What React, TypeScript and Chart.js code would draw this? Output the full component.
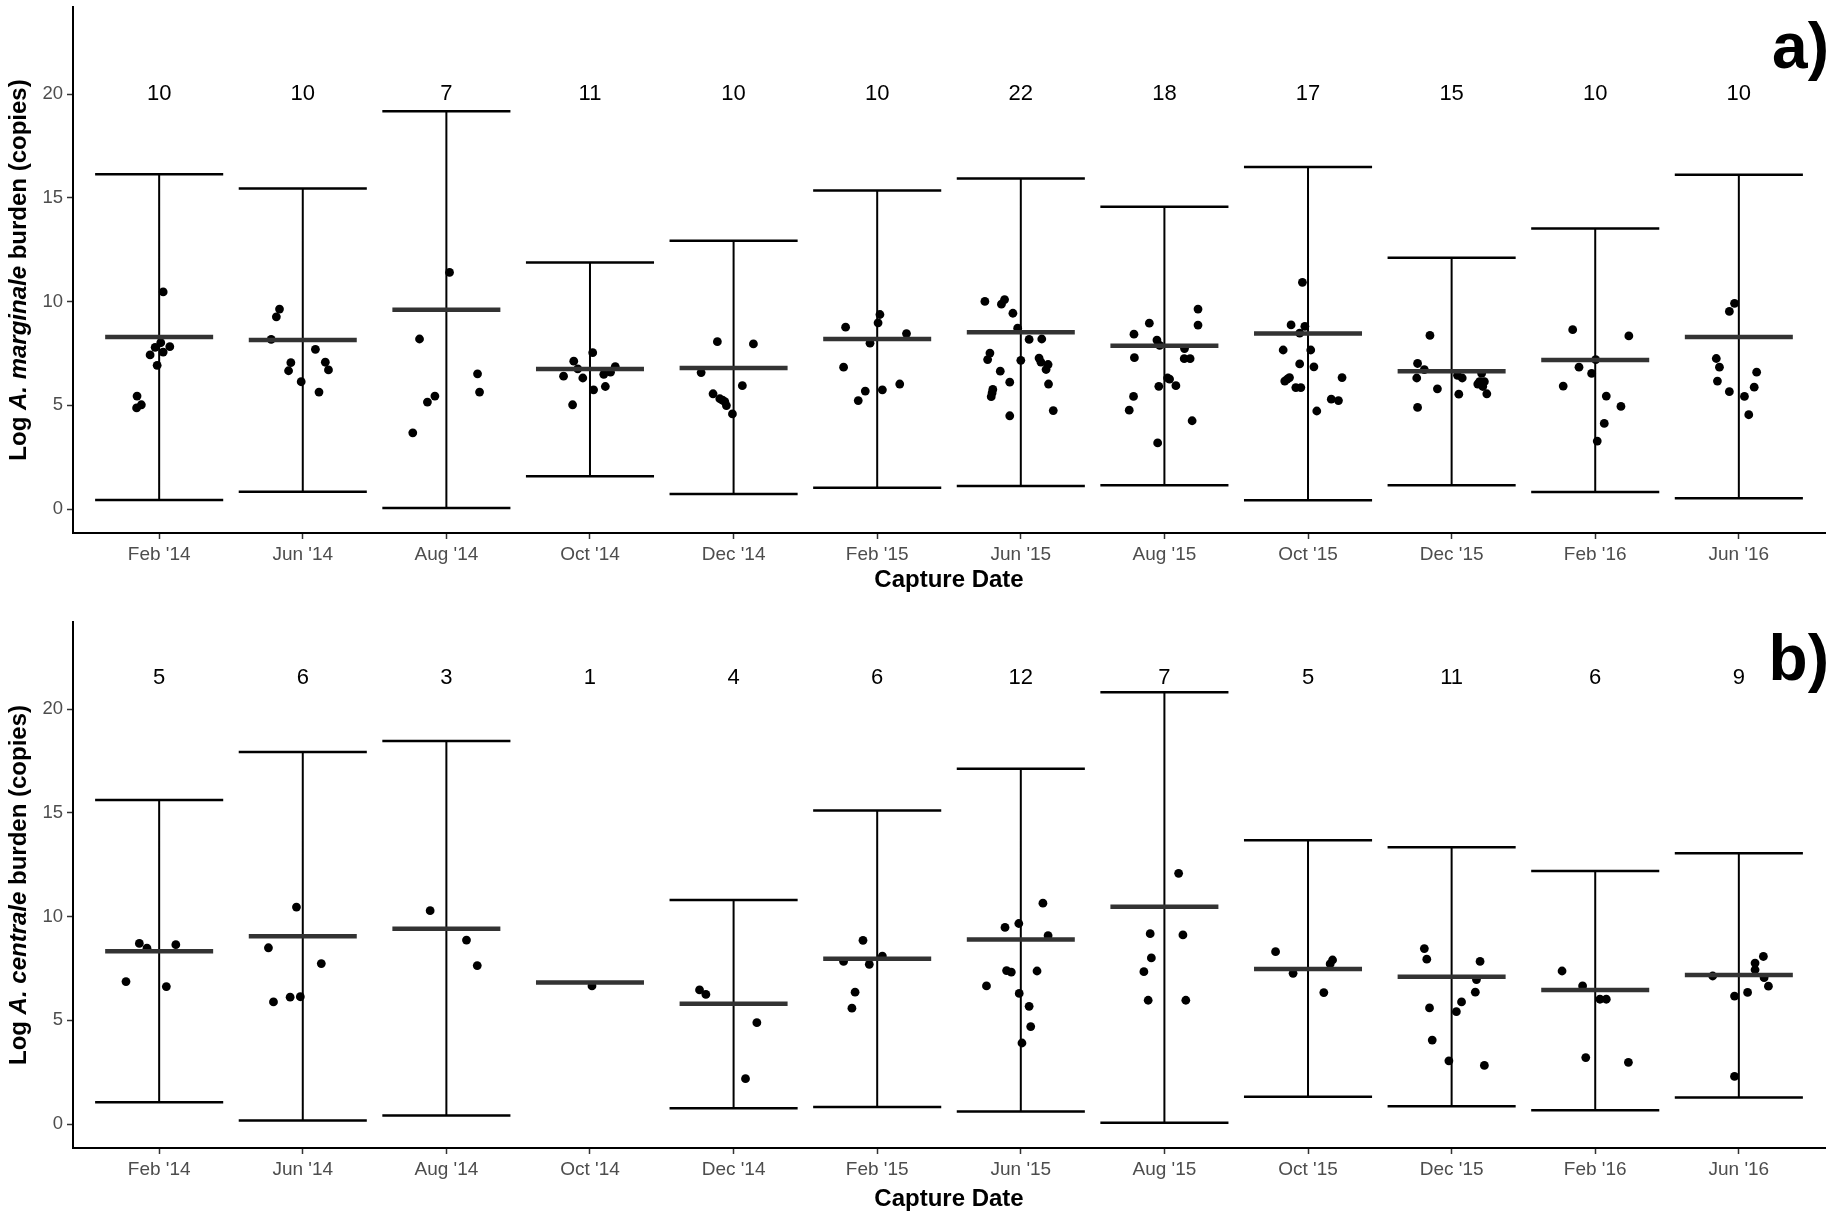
import React, { useEffect, useRef } from "react";
import { Chart, registerables } from "chart.js";

Chart.register(...registerables);

const FONT = "'Liberation Sans', Arial, Helvetica, sans-serif";

const categories = ["Feb '14", "Jun '14", "Aug '14", "Oct '14", "Dec '14", "Feb '15", "Jun '15", "Aug '15", "Oct '15", "Dec '15", "Feb '16", "Jun '16"];
const yTickValues = [0, 5, 10, 15, 20];

// ---- Panel a) A. marginale ----
const topCounts = [10, 10, 7, 11, 10, 10, 22, 18, 17, 15, 10, 10];
const topMeans = [8.30, 8.15, 9.61, 6.75, 6.80, 8.20, 8.53, 7.87, 8.46, 6.65, 7.19, 8.30];
const topUpper = [16.14, 15.45, 19.18, 11.89, 12.93, 15.36, 15.93, 14.57, 16.49, 12.11, 13.53, 16.12];
const topLower = [0.44, 0.84, 0.05, 1.58, 0.73, 1.03, 1.11, 1.15, 0.43, 1.15, 0.82, 0.53];
const topPointsY = [
  [10.47, 7.83, 8.02, 7.80, 7.57, 7.43, 6.93, 5.45, 5.03, 4.88],
  [9.64, 9.27, 8.18, 7.70, 7.06, 7.08, 6.67, 6.71, 6.14, 5.64],
  [11.41, 8.20, 6.52, 5.64, 5.45, 5.16, 3.68],
  [7.54, 7.13, 6.76, 6.41, 6.32, 6.50, 6.60, 6.87, 5.75, 5.91, 5.03],
  [8.07, 7.96, 6.58, 5.95, 5.56, 5.32, 5.18, 4.99, 4.59, 5.25],
  [9.38, 8.98, 8.77, 8.46, 8.00, 6.84, 6.03, 5.75, 5.69, 5.23],
  [10.01, 10.10, 9.88, 9.44, 8.72, 8.18, 8.20, 7.52, 7.21, 7.17, 7.28, 6.97, 6.73, 6.65, 6.12, 6.03, 5.77, 5.42, 4.50, 4.75, 7.09, 5.60],
  [9.64, 8.96, 8.87, 8.43, 8.15, 7.89, 7.74, 7.30, 7.25, 7.25, 6.32, 6.27, 5.92, 5.95, 5.43, 4.77, 4.26, 3.19],
  [10.93, 8.88, 8.81, 8.48, 7.67, 7.67, 7.00, 6.86, 6.34, 6.17, 6.34, 5.86, 5.86, 5.30, 5.23, 4.73, 6.26],
  [8.37, 7.02, 6.72, 6.32, 6.45, 6.32, 6.54, 6.14, 6.03, 5.91, 5.56, 5.80, 5.54, 4.90, 6.14],
  [8.65, 8.35, 7.21, 6.84, 6.54, 5.93, 5.45, 4.95, 4.13, 3.28],
  [9.92, 9.53, 7.26, 6.84, 6.60, 6.17, 5.88, 5.66, 5.43, 4.55],
];
const topPointsDx = [
  [0.028, 0.074, 0.011, -0.028, 0.028, -0.063, -0.014, -0.154, -0.124, -0.157],
  [-0.162, -0.184, -0.22, 0.088, -0.083, 0.157, -0.099, 0.179, -0.011, 0.113],
  [0.022, -0.187, 0.217, 0.231, -0.08, -0.132, -0.234],
  [0.019, -0.113, -0.085, -0.184, -0.05, 0.096, 0.143, 0.176, 0.025, 0.107, -0.121],
  [-0.113, 0.138, -0.226, 0.061, -0.143, -0.096, -0.061, -0.05, -0.008, -0.077],
  [0.019, 0.006, -0.22, 0.204, -0.05, -0.234, 0.157, 0.036, -0.083, -0.132],
  [-0.25, -0.113, -0.135, -0.055, -0.022, 0.058, 0.146, -0.215, -0.231, 0, 0.127, 0.19, 0.176, -0.143, -0.077, 0.193, -0.195, -0.206, -0.077, 0.226, 0.14, -0.2],
  [0.234, -0.105, 0.234, -0.212, -0.052, -0.033, 0.14, -0.209, 0.138, 0.179, 0.022, 0.036, -0.039, 0.08, -0.215, -0.245, 0.193, -0.047],
  [-0.039, -0.118, -0.022, -0.058, -0.173, 0.019, -0.058, 0.041, -0.129, -0.162, 0.237, -0.085, -0.05, 0.162, 0.212, 0.061, -0.145],
  [-0.151, -0.237, -0.19, -0.243, 0.041, 0.074, 0.209, 0.228, 0.182, 0.217, 0.245, -0.099, 0.05, -0.237, 0.195],
  [-0.157, 0.234, 0.003, -0.113, -0.025, -0.223, 0.077, 0.179, 0.063, 0.014],
  [-0.03, -0.066, -0.157, -0.135, 0.124, -0.149, 0.107, -0.066, 0.039, 0.069],
];

// ---- Panel b) A. centrale ----
const botCounts = [5, 6, 3, 1, 4, 6, 12, 7, 5, 11, 6, 9];
const botMeans = [8.33, 9.05, 9.42, 6.83, 5.80, 7.97, 8.90, 10.48, 7.48, 7.10, 6.46, 7.19];
const botUpper = [15.62, 17.93, 18.46, null, 10.80, 15.11, 17.13, 20.82, 13.68, 13.34, 12.20, 13.05];
const botLower = [1.05, 0.18, 0.42, null, 0.76, 0.82, 0.61, 0.07, 1.32, 0.86, 0.67, 1.28];
const botPointsY = [
  [8.71, 8.48, 8.65, 6.87, 6.63],
  [10.46, 8.50, 7.74, 5.89, 6.12, 6.14],
  [10.29, 8.87, 7.64],
  [6.66],
  [6.47, 6.25, 4.89, 2.19],
  [8.86, 8.10, 7.84, 7.70, 6.36, 5.59],
  [10.65, 9.67, 9.48, 9.08, 7.40, 7.33, 7.38, 6.66, 6.30, 5.68, 4.70, 3.91],
  [12.09, 9.18, 9.12, 8.01, 7.35, 5.97, 5.97],
  [8.31, 7.91, 7.72, 7.27, 6.34],
  [8.46, 7.95, 7.84, 6.97, 6.36, 5.89, 5.60, 5.42, 4.05, 3.05, 2.83],
  [7.38, 6.66, 6.02, 6.02, 3.21, 2.98],
  [8.08, 7.76, 7.44, 7.14, 7.06, 6.65, 6.35, 6.17, 2.30],
];
const botPointsDx = [
  [-0.138, -0.085, 0.116, -0.231, 0.05],
  [-0.044, -0.239, 0.129, -0.204, -0.088, -0.017],
  [-0.113, 0.14, 0.215],
  [0.014],
  [-0.237, -0.193, 0.162, 0.083],
  [-0.099, 0.036, -0.234, -0.055, -0.154, -0.176],
  [0.154, -0.014, -0.11, 0.19, -0.099, -0.066, 0.113, -0.239, -0.011, 0.058, 0.069, 0.008],
  [0.099, -0.099, 0.129, -0.091, -0.143, -0.113, 0.149],
  [-0.226, 0.171, 0.154, -0.104, 0.11],
  [-0.19, -0.173, 0.198, 0.173, 0.165, 0.069, -0.154, 0.033, -0.135, -0.019, 0.228],
  [-0.231, -0.088, 0.033, 0.077, -0.066, 0.231],
  [0.171, 0.113, 0.113, -0.182, 0.176, 0.206, 0.061, -0.03, -0.03],
];

// half widths in category units
const CAP_HALF = 0.446;
const MEAN_HALF = 0.376;

type Panel = {
  counts: number[];
  means: number[];
  upper: (number | null)[];
  lower: (number | null)[];
  pointsY: number[][];
  pointsDx: number[][];
  species: string;
  tag: string;
  countY: number;
  height: number;
  plotTop: number;
  plotBottom: number;
  tagBaseline: number;
  titlePadBottom: number;
};

function hseg(x: number, half: number, y: number) {
  return [{ x: x - half, y }, { x: x + half, y }, { x, y: null }];
}

function makeChart(canvas: HTMLCanvasElement, p: Panel) {
  const whisker: any[] = [];
  const caps: any[] = [];
  categories.forEach((_, i) => {
    const lo = p.lower[i];
    const hi = p.upper[i];
    if (lo == null || hi == null) return;
    whisker.push({ x: i, y: lo }, { x: i, y: hi }, { x: i, y: null });
    caps.push(...hseg(i, CAP_HALF, lo), ...hseg(i, CAP_HALF, hi));
  });
  const means: any[] = [];
  p.means.forEach((m, i) => means.push(...hseg(i, MEAN_HALF, m)));
  const pts: any[] = [];
  p.pointsY.forEach((arr, i) => arr.forEach((y, k) => pts.push({ x: i + p.pointsDx[i][k], y })));

  const overlay = {
    id: "overlay" + p.tag,
    afterDraw(chart: any) {
      const ctx = chart.ctx as CanvasRenderingContext2D;
      const xs = chart.scales.x;
      const ys = chart.scales.y;
      ctx.save();
      ctx.fillStyle = "#000";
      ctx.font = `22px ${FONT}`;
      ctx.textAlign = "center";
      ctx.textBaseline = "middle";
      p.counts.forEach((c, i) => {
        ctx.fillText(String(c), xs.getPixelForValue(i), ys.getPixelForValue(p.countY));
      });
      ctx.font = `bold 64px ${FONT}`;
      ctx.textAlign = "right";
      ctx.textBaseline = "alphabetic";
      ctx.fillText(p.tag, 1829, p.tagBaseline);
      const parts = [
        { t: "Log ", f: `bold 24px ${FONT}` },
        { t: p.species, f: `italic bold 24px ${FONT}` },
        { t: " burden (copies)", f: `bold 24px ${FONT}` },
      ];
      let total = 0;
      const widths = parts.map((pt) => {
        ctx.font = pt.f;
        const w = ctx.measureText(pt.t).width;
        total += w;
        return w;
      });
      const cy = (chart.chartArea.top + chart.chartArea.bottom) / 2;
      ctx.translate(19, cy);
      ctx.rotate(-Math.PI / 2);
      ctx.textAlign = "left";
      ctx.textBaseline = "middle";
      let xx = -total / 2;
      parts.forEach((pt, k) => {
        ctx.font = pt.f;
        ctx.fillText(pt.t, xx, 0);
        xx += widths[k];
      });
      ctx.restore();
    },
  };

  const lineDs = (label: string, data: any[], width: number, color: string, order: number) =>
    ({
      label,
      data,
      showLine: true,
      spanGaps: false,
      pointRadius: 0,
      pointHoverRadius: 0,
      borderWidth: width,
      borderColor: color,
      borderCapStyle: "butt",
      order,
    } as any);

  return new Chart(canvas, {
    type: "scatter",
    data: {
      datasets: [
        lineDs("mean", means, 4.5, "#333333", 0),
        lineDs("caps", caps, 2.5, "#000000", 1),
        lineDs("whisker", whisker, 2, "#000000", 2),
        {
          label: "points",
          data: pts,
          pointRadius: 4.4,
          borderWidth: 0,
          backgroundColor: "#000",
          borderColor: "#000",
          order: 3,
        } as any,
      ],
    },
    options: {
      animation: false,
      responsive: false,
      events: [],
      layout: { padding: { top: p.plotTop, right: 15, left: 0, bottom: 0 } },
      plugins: { legend: { display: false }, tooltip: { enabled: false } },
      scales: {
        x: {
          type: "linear",
          min: -0.6,
          max: 11.6,
          afterBuildTicks: (s: any) => {
            s.ticks = categories.map((_, i) => ({ value: i }));
          },
          afterFit: (s: any) => {
            s.height = p.height - p.plotBottom;
            s.paddingLeft = 0;
            s.paddingRight = 0;
          },
          ticks: {
            autoSkip: false,
            maxRotation: 0,
            color: "#4d4d4d",
            font: { size: 19, family: FONT },
            padding: 4,
            callback: (v: any) => categories[Math.round(Number(v))] ?? "",
          },
          grid: { display: true, drawOnChartArea: false, drawTicks: true, tickLength: 6, tickColor: "#333", tickWidth: 1.5 },
          border: { display: true, color: "#000", width: 2 },
          title: {
            display: true,
            text: "Capture Date",
            color: "#000",
            font: { size: 24, weight: "bold", family: FONT },
            padding: { top: 0, bottom: p.titlePadBottom },
          },
        },
        y: {
          type: "linear",
          min: -1.15,
          max: 24.2,
          afterBuildTicks: (s: any) => {
            s.ticks = yTickValues.map((v) => ({ value: v }));
          },
          afterFit: (s: any) => {
            s.width = 73;
            s.paddingTop = 0;
            s.paddingBottom = 0;
          },
          ticks: { color: "#4d4d4d", font: { size: 18.5, family: FONT }, padding: 4 },
          grid: { display: true, drawOnChartArea: false, drawTicks: true, tickLength: 6, tickColor: "#333", tickWidth: 1.5 },
          border: { display: true, color: "#000", width: 2 },
        },
      },
    } as any,
    plugins: [overlay],
  });
}

const topPanel: Panel = {
  counts: topCounts, means: topMeans, upper: topUpper, lower: topLower,
  pointsY: topPointsY, pointsDx: topPointsDx, species: "A. marginale", tag: "a)",
  countY: 20, height: 600, plotTop: 7, plotBottom: 533, tagBaseline: 68, titlePadBottom: 5.6,
};
const botPanel: Panel = {
  counts: botCounts, means: botMeans, upper: botUpper, lower: botLower,
  pointsY: botPointsY, pointsDx: botPointsDx, species: "A. centrale", tag: "b)",
  countY: 21.5, height: 615, plotTop: 22, plotBottom: 548, tagBaseline: 80, titlePadBottom: 1.6,
};

function PanelCanvas({ panel }: { panel: Panel }) {
  const ref = useRef<HTMLCanvasElement | null>(null);
  useEffect(() => {
    if (!ref.current) return;
    const c = makeChart(ref.current, panel);
    return () => c.destroy();
  }, [panel]);
  return (
    <canvas
      ref={ref}
      width={1840}
      height={panel.height}
      style={{ display: "block", width: 1840, height: panel.height }}
    />
  );
}

export default function App() {
  return (
    <div style={{ position: "absolute", left: 0, top: 0, width: 1840, height: 1215, background: "#fff" }}>
      <PanelCanvas panel={topPanel} />
      <PanelCanvas panel={botPanel} />
    </div>
  );
}
